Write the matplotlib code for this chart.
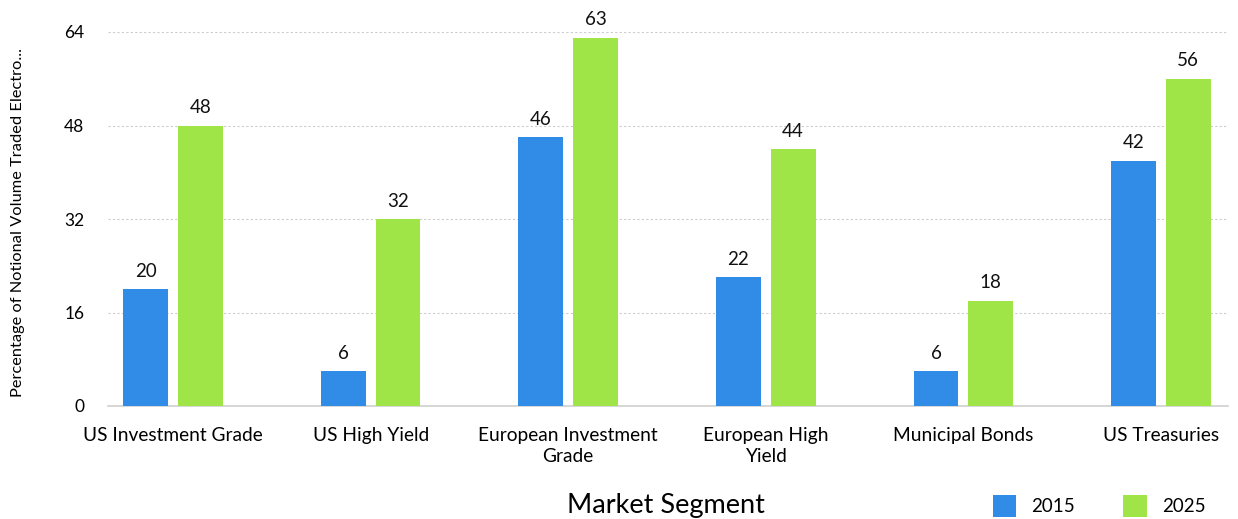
import matplotlib.pyplot as plt
import numpy as np

plt.rcParams['font.family'] = ['Lato', 'DejaVu Sans']

categories = ['US Investment Grade', 'US High Yield', 'European Investment\nGrade',
              'European High\nYield', 'Municipal Bonds', 'US Treasuries']
vals_2015 = [20, 6, 46, 22, 6, 42]
vals_2025 = [48, 32, 63, 44, 18, 56]
series_names = ['2015', '2025']
colors = ['#318CE7', '#A0E548']
yticks = [0, 16, 32, 48, 64]

fig = plt.figure(figsize=(12.38, 5.19), dpi=100)
ax = fig.add_axes([108 / 1238, 1 - 406 / 519, 1120 / 1238, 374 / 519])

x = np.arange(len(categories))
w = 0.227
gap = 0.05
off = (w + gap) / 2
for i, (vals, name, c) in enumerate(zip([vals_2015, vals_2025], series_names, colors)):
    pos = x - off if i == 0 else x + off
    bars = ax.bar(pos, vals, width=w, color=c, label=name, zorder=3)
    for b, v in zip(bars, vals):
        ax.text(b.get_x() + b.get_width() / 2, v + 1.6, str(v), ha='center', va='bottom',
                fontsize=13.5, color='#111111')

ax.set_xlim(-0.33, 5.34)
ax.set_ylim(0, 64)
ax.set_yticks(yticks)
ax.set_xticks(x)
ax.set_xticklabels(categories, fontsize=13.8, linespacing=1.3)
ax.tick_params(axis='y', labelsize=12.5, length=0, pad=17)
ax.tick_params(axis='x', length=0, pad=15)
ax.grid(axis='y', linestyle=(0, (2, 2)), color='#cccccc', linewidth=0.8, zorder=0)
for s in ['top', 'right', 'left']:
    ax.spines[s].set_visible(False)
ax.spines['bottom'].set_color('#d0d0d0')
ax.spines['bottom'].set_linewidth(1.2)

ax.set_ylabel('Percentage of Notional Volume Traded Electro...', fontsize=11.8)
ax.yaxis.set_label_coords(-0.074, 0.49)
fig.text(666 / 1238, 1 - 506 / 519, 'Market Segment', ha='center', va='center', fontsize=19.5)

ax.legend(loc='center', bbox_to_anchor=(1099 / 1238, 1 - 506 / 519), bbox_transform=fig.transFigure,
          ncol=2, frameon=False, fontsize=13.5, handlelength=1.25, handleheight=1.4,
          columnspacing=2.6, handletextpad=0.8)

fig.savefig('out.png', dpi=100)
